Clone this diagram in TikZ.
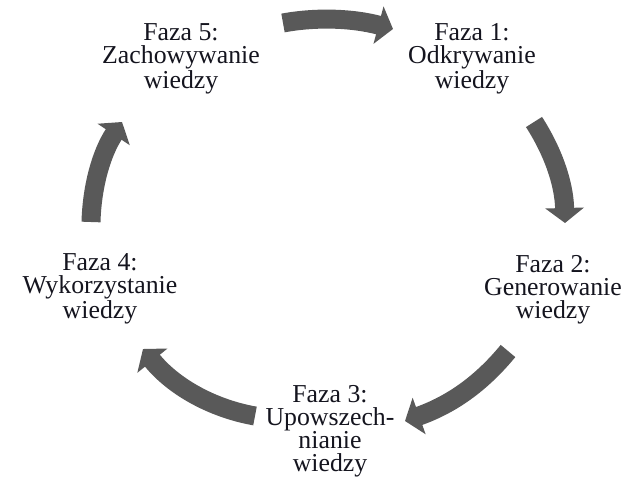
\documentclass[tikz,border=0pt]{standalone}
\usepackage{fontspec}
\setmainfont{Liberation Serif}
\usetikzlibrary{arrows.meta}
\definecolor{arrgray}{RGB}{89,89,89}
\definecolor{txt}{RGB}{20,20,30}
\tikzset{
  cyclearrow/.style={draw=arrgray, line width=19pt,
    -{Triangle[length=15pt 0 0, width=38pt 0, fill=arrgray]}},
  phase/.style={align=center, inner sep=0pt, anchor=base, text=txt,
    font=\fontsize{25.8}{23}\selectfont}
}
\begin{document}
\begin{tikzpicture}[x=1pt,y=-1pt]
\useasboundingbox (0,0) rectangle (631,479);
% phases (anchor = baseline of last line)
\node[phase] (f1) at (472,88) {Faza 1:\\Odkrywanie\\wiedzy};
\node[phase] (f2) at (553,318) {Faza 2:\\Generowanie\\wiedzy};
\node[phase] (f3) at (330,471) {Faza 3:\\Upowszech-\\nianie\\wiedzy};
\node[phase] (f4) at (100,318) {Faza 4:\\Wykorzystanie\\wiedzy};
\node[phase] (f5) at (181,88) {Faza 5:\\Zachowywanie\\wiedzy};
% arrow endpoints
\coordinate (a1s) at (283,23);  \coordinate (a1e) at (393,29);
\coordinate (a2s) at (534,122); \coordinate (a2e) at (565,223);
\coordinate (a3s) at (508,351); \coordinate (a3e) at (405,421);
\coordinate (a4s) at (255,416); \coordinate (a4e) at (143,349);
\coordinate (a5s) at (91,222);  \coordinate (a5e) at (122,122);
% arrows
\draw[cyclearrow] (a1s) .. controls (315,17) and (352,18) .. (a1e);
\draw[cyclearrow] (a2s) .. controls (552,150) and (564,182) .. (a2e);
\draw[cyclearrow] (a3s) .. controls (480,385) and (450,405) .. (a3e);
\draw[cyclearrow] (a4s) .. controls (210,408) and (172,385) .. (a4e);
\draw[cyclearrow] (a5s) .. controls (92,185) and (102,152) .. (a5e);
\end{tikzpicture}
\end{document}
